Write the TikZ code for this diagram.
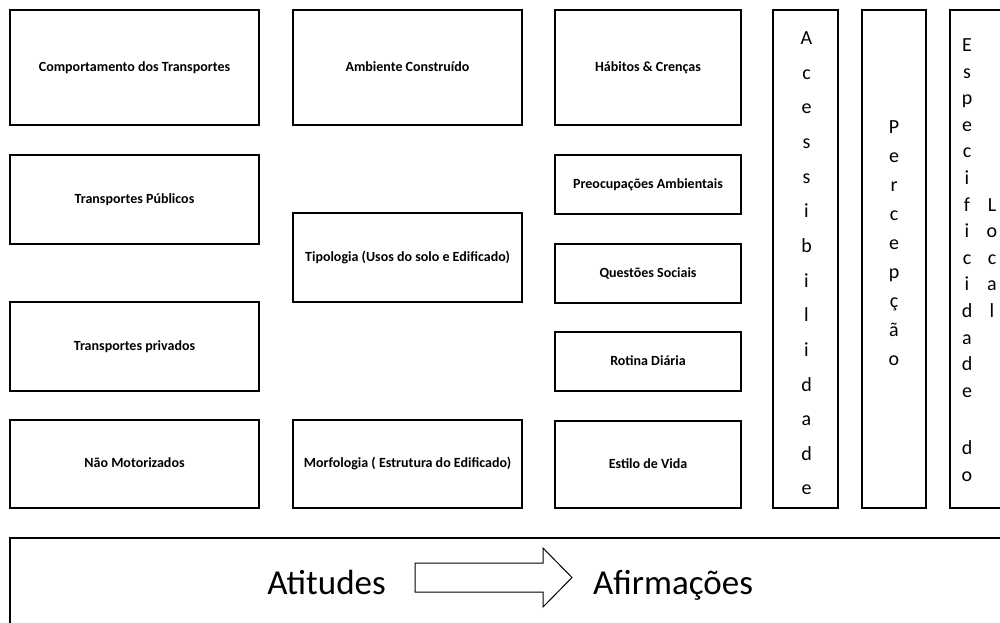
\documentclass[tikz,border=0pt]{standalone}
\usepackage{fontspec}
\setmainfont{Carlito}
\newcommand\labelbox[6]{%
  \node[box, minimum width={(#4-#2)*1pt}, minimum height={(#5-#3)*1pt}]
    (#1) at ({(#2+#4)/2},{(#3+#5)/2}) {#6};}
% a column of single letters, first baseline at the node's base anchor
\newcommand\letterstack[2]{%
  \vtop{\baselineskip=#1\lineskiplimit=-100pt\halign{\hfil##\hfil\cr#2\crcr}}}
\tikzset{
  box/.style={draw, line width=1.2pt, inner sep=0pt, align=center,
    text height=9.5pt, text depth=2.5pt,
    font=\bfseries\fontsize{14}{16}\selectfont},
  tallbox/.style={draw, line width=1.2pt, inner sep=0pt},
  letters/.style={anchor=base, inner sep=0pt, font=\fontsize{20}{24}\selectfont},
  bigword/.style={anchor=base, inner sep=0pt, font=\fontsize{35}{40}\selectfont},
}
\begin{document}
\begin{tikzpicture}[x=1pt, y=-1pt]
\useasboundingbox (0,0) rectangle (1000,622);

% transport column
\labelbox{comport}{10}{10}{259}{125}{Comportamento dos Transportes}
\labelbox{publicos}{10}{155}{259}{244}{Transportes Públicos}
\labelbox{privados}{10}{302}{259}{391}{Transportes privados}
\labelbox{naomotor}{10}{420}{259}{508}{Não Motorizados}

% built environment column
\labelbox{ambiente}{293}{10}{522}{125}{Ambiente Construído}
\labelbox{tipologia}{293}{213}{522}{302}{Tipologia (Usos do solo e Edificado)}
\labelbox{morfologia}{293}{420}{522}{508}{Morfologia ( Estrutura do Edificado)}

% habits column
\labelbox{habitos}{555}{10}{741}{125}{Hábitos \& Crenças}
\labelbox{preocup}{555}{155}{741}{214}{Preocupações Ambientais}
\labelbox{questoes}{555}{244}{741}{303}{Questões Sociais}
\labelbox{rotina}{555}{332}{741}{391}{Rotina Diária}
\labelbox{estilo}{555}{421}{741}{508}{Estilo de Vida}

% tall vertical boxes
\node[tallbox, minimum width=65pt, minimum height=498pt] (acess) at (805.5,259) {};
\node[tallbox, minimum width=64pt, minimum height=498pt] (percep) at (894,259) {};
\draw[line width=1.2pt] (1010,10) -- (950,10) -- (950,508) -- (1010,508);

\node[letters] (acesstxt) at (806.5,44.5)
  {\letterstack{34.65pt}{A\cr c\cr e\cr s\cr s\cr i\cr b\cr i\cr l\cr i\cr d\cr a\cr d\cr e}};
\node[letters] (perceptxt) at (894,133.5)
  {\letterstack{29pt}{P\cr e\cr r\cr c\cr e\cr p\cr ç\cr ã\cr o}};
\node[letters] (espectxt) at (967,51.5)
  {\letterstack{26.6pt}{E\cr s\cr p\cr e\cr c\cr i\cr f\cr i\cr c\cr i\cr d\cr a\cr d\cr e\cr \noalign{\vskip4pt}\cr d\cr o}};
\node[letters] (localtxt) at (992,211.1)
  {\letterstack{26.6pt}{L\cr o\cr c\cr a\cr l}};

% bottom panel
\draw[line width=1.2pt] (1010,538) -- (10,538) -- (10,632);
\node[bigword] (atitudes) at (326.5,594) {Atitudes};
\node[bigword, anchor=base west] (afirm) at (593,594) {Afirmações};
\draw[line width=1pt, line join=miter]
  (415,563) -- (543,563) -- (543,548) -- (572,577.5) -- (543,607) -- (543,592) -- (415,592) -- cycle;
\end{tikzpicture}
\end{document}
